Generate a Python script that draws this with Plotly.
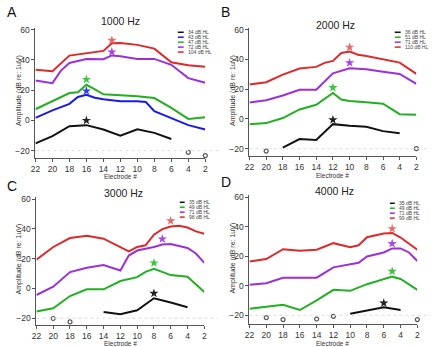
import plotly.graph_objects as go

# ---------------- data ----------------
# Panel A: 1000 Hz
a_title = "1000 Hz"
a_labels = ["34 dB HL", "43 dB HL", "47 dB HL", "72 dB HL", "104 dB HL"]
a34_x = [22, 20, 18, 16, 14, 12, 10, 8, 6]
a34_y = [-15.2, -10.4, -3.8, -3.1, -6.0, -10.1, -5.8, -8.2, -12.3]
a43_x = [22, 20, 18, 17, 16, 15, 14, 12, 10, 9, 8, 6, 4, 2]
a43_y = [1.7, 6.7, 11.0, 15.5, 17.0, 15.0, 14.0, 12.7, 12.7, 12.2, 6.1, 1.3, -3.1, -6.0]
a47_x = [22, 20, 18, 17, 16, 15, 14, 12, 10, 8, 6, 4, 2]
a47_y = [7.4, 12.8, 18.1, 18.6, 23.6, 20.5, 17.3, 16.6, 16.0, 14.8, 8.3, 1.0, 2.1]
a72_x = [22, 20, 19, 18, 16, 14, 13, 12, 10, 8, 6, 4, 2]
a72_y = [26.5, 24.7, 33.0, 38.0, 40.7, 40.5, 43.0, 42.5, 40.7, 40.7, 36.8, 28.0, 25.0]
a104_x = [22, 20, 18, 16, 14, 13, 12, 10, 9, 8, 6, 4, 2]
a104_y = [33.5, 32.6, 42.9, 44.4, 46.0, 51.0, 51.2, 50.0, 49.0, 47.5, 38.5, 36.5, 35.5]
a_star_x = [16, 16, 16, 13, 13]
a_star_y = [0.0, 19.5, 27.1, 45.3, 53.0]
a_nr_x = [4, 2]
a_nr_y = [-21.1, -23.3]

# Panel B: 2000 Hz
b_title = "2000 Hz"
b_labels = ["36 dB HL", "51 dB HL", "71 dB HL", "110 dB HL"]
b36_x = [18, 16, 14, 12, 10, 8, 6, 4]
b36_y = [-19.3, -13.5, -14.2, -3.5, -4.6, -5.3, -8.2, -9.7]
b51_x = [22, 20, 18, 16, 14, 13, 12, 11, 10, 8, 6, 4, 2]
b51_y = [-3.5, -2.8, 0.6, 6.4, 9.5, 13.5, 17.5, 13.1, 12.0, 11.3, 10.2, 3.2, 2.8]
b71_x = [22, 20, 18, 16, 14, 12, 10, 8, 6, 4, 2]
b71_y = [11.0, 12.6, 15.8, 19.6, 19.6, 30.7, 34.1, 33.4, 31.8, 30.3, 23.6]
b110_x = [22, 20, 18, 16, 14, 13, 12, 11, 10, 9, 8, 6, 4, 2]
b110_y = [23.1, 24.7, 29.8, 33.9, 35.0, 37.7, 39.0, 44.4, 45.3, 43.2, 42.3, 40.1, 37.9, 30.3]
b_star_x = [12, 12, 10, 10]
b_star_y = [-0.6, 21.1, 37.7, 48.2]
b_nr_x = [20, 2]
b_nr_y = [-21.6, -20.0]

# Panel C: 3000 Hz
c_title = "3000 Hz"
c_labels = ["35 dB HL", "49 dB HL", "71 dB HL", "98 dB HL"]
c35_x = [14, 12, 10, 8, 6, 4]
c35_y = [-15.8, -17.3, -14.7, -6.6, -9.5, -12.6]
c49_x = [22, 20, 18, 16, 14, 12, 10, 9, 8, 6, 4, 2]
c49_y = [-15.5, -13.3, -5.1, -0.6, -0.6, 5.0, 7.6, 11.2, 13.2, 9.0, 7.9, -2.4]
c71_x = [22, 20, 18, 16, 14, 12, 11, 10, 8, 7, 6, 4, 3, 2]
c71_y = [-4.4, 1.2, 11.0, 13.9, 15.7, 12.1, 22.1, 25.5, 27.9, 29.5, 29.9, 27.2, 23.5, 17.2]
c98_x = [22, 20, 18, 16, 14, 12, 11, 10, 9, 8, 7, 6, 5, 4, 3, 2]
c98_y = [19.4, 27.9, 33.9, 35.5, 33.5, 27.9, 25.0, 27.9, 29.0, 36.2, 39.9, 41.7, 42.2, 41.0, 38.4, 36.8]
c_star_x = [8, 8, 7, 6]
c_star_y = [-3.3, 17.2, 33.3, 45.5]
c_nr_x = [20, 18]
c_nr_y = [-20.2, -22.5]

# Panel D: 4000 Hz
d_title = "4000 Hz"
d_labels = ["35 dB HL", "49 dB HL", "71 dB HL", "99 dB HL"]
d35_x = [10, 8, 6, 4]
d35_y = [-18.9, -16.6, -14.6, -16.4]
d49_x = [22, 20, 18, 16, 14, 12, 10, 8, 6, 5, 4, 2]
d49_y = [-15.5, -14.2, -12.8, -16.4, -9.9, -2.7, -3.4, 1.1, 4.2, 6.2, 4.6, -2.7]
d71_x = [22, 20, 18, 16, 14, 12, 10, 9, 8, 6, 5, 4, 3, 2]
d71_y = [0.8, 1.7, 5.5, 5.5, 5.5, 12.5, 14.5, 15.6, 19.9, 22.6, 25.3, 25.3, 22.6, 16.8]
d99_x = [22, 20, 18, 16, 14, 12, 10, 9, 8, 6, 5, 4, 2]
d99_y = [16.5, 18.1, 24.8, 23.7, 24.4, 28.9, 26.2, 27.5, 32.9, 35.4, 35.8, 32.7, 24.4]
d_star_x = [6, 5, 5, 5]
d_star_y = [-11.7, 9.8, 28.6, 38.7]
d_nr_x = [20, 18, 14, 12, 2]
d_nr_y = [-21.6, -22.9, -22.5, -20.7, -22.9]

x_ticks = [22, 20, 18, 16, 14, 12, 10, 8, 6, 4, 2]
y_ticks = [-20, 0, 20, 40, 60]
noise_floor = -20

# ---------------- styles ----------------
FONT = "Arial, Liberation Sans, sans-serif"
BLACK, BLUE, GREEN, PURPLE, RED = "#111111", "#1a1ae6", "#22b022", "#9b2fd8", "#dc2a2a"
STAR = {BLACK: "#222222", BLUE: "#3040e8", GREEN: "#3cc43c", PURPLE: "#a845e6", RED: "#e86a6a"}
AX_COL = "#555555"

W, H = 440, 347

panels = [
    dict(letter="A", title=a_title, labels=a_labels,
         series=[(a34_x, a34_y, BLACK), (a43_x, a43_y, BLUE), (a47_x, a47_y, GREEN),
                 (a72_x, a72_y, PURPLE), (a104_x, a104_y, RED)],
         stars=(a_star_x, a_star_y, [BLACK, BLUE, GREEN, PURPLE, RED]), nr=(a_nr_x, a_nr_y),
         px=(31, 204), py=(25, 156), yr=(-24.6, 61.3),
         title_xy=(118, 18.5), letter_xy=(7, 9), ytitle_xy=(14, 88), xtitle_xy=(118, 175.5),
         leg=(176, 182, 184, 29.5)),
    dict(letter="B", title=b_title, labels=b_labels,
         series=[(b36_x, b36_y, BLACK), (b51_x, b51_y, GREEN), (b71_x, b71_y, PURPLE),
                 (b110_x, b110_y, RED)],
         stars=(b_star_x, b_star_y, [BLACK, GREEN, PURPLE, RED]), nr=(b_nr_x, b_nr_y),
         px=(249, 419), py=(25, 154), yr=(-24.7, 61.3),
         title_xy=(337, 22), letter_xy=(225, 9), ytitle_xy=(232, 88), xtitle_xy=(334, 174),
         leg=(397, 403, 405, 29.5)),
    dict(letter="C", title=c_title, labels=c_labels,
         series=[(c35_x, c35_y, BLACK), (c49_x, c49_y, GREEN), (c71_x, c71_y, PURPLE),
                 (c98_x, c98_y, RED)],
         stars=(c_star_x, c_star_y, [BLACK, GREEN, PURPLE, RED]), nr=(c_nr_x, c_nr_y),
         px=(32, 203), py=(196, 325), yr=(-24.7, 61.3),
         title_xy=(121, 191.5), letter_xy=(7, 185), ytitle_xy=(14, 258), xtitle_xy=(118, 343),
         leg=(178, 183, 185, 201)),
    dict(letter="D", title=d_title, labels=d_labels,
         series=[(d35_x, d35_y, BLACK), (d49_x, d49_y, GREEN), (d71_x, d71_y, PURPLE),
                 (d99_x, d99_y, RED)],
         stars=(d_star_x, d_star_y, [BLACK, GREEN, PURPLE, RED]), nr=(d_nr_x, d_nr_y),
         px=(249, 420), py=(194, 324), yr=(-26.0, 61.3),
         title_xy=(336, 189.5), letter_xy=(225, 181), ytitle_xy=(232, 257), xtitle_xy=(334, 343),
         leg=(392, 397, 399, 202)),
]

fig = go.Figure()
layout = dict(width=W, height=H, margin=dict(l=0, r=0, t=0, b=0),
              paper_bgcolor="white", plot_bgcolor="white", showlegend=False,
              font=dict(family=FONT, color="#333333"))
annotations = []
shapes = []


def pxx(v):
    return v / W


def pxy(v):
    return 1 - v / H


for i, p in enumerate(panels, start=1):
    xa = "x" if i == 1 else f"x{i}"
    ya = "y" if i == 1 else f"y{i}"
    xkey = "xaxis" if i == 1 else f"xaxis{i}"
    ykey = "yaxis" if i == 1 else f"yaxis{i}"
    layout[xkey] = dict(domain=[pxx(p["px"][0]), pxx(p["px"][1])], range=[22, 2], anchor=ya,
                        tickvals=x_ticks, ticks="outside", ticklen=3, tickwidth=1,
                        tickcolor=AX_COL, showline=True, linecolor=AX_COL, linewidth=1,
                        showgrid=False, zeroline=False, tickfont=dict(size=8.5, color="#333333"))
    layout[ykey] = dict(domain=[pxy(p["py"][1]), pxy(p["py"][0])], range=list(p["yr"]),
                        anchor=xa, tickvals=y_ticks, ticks="outside", ticklen=3, tickwidth=1,
                        tickcolor=AX_COL, showline=True, linecolor=AX_COL, linewidth=1,
                        showgrid=False, zeroline=False, tickfont=dict(size=8.5, color="#333333"))

    # noise floor
    shapes.append(dict(type="line", xref=f"{xa} domain", yref=ya, x0=0, x1=1.08,
                       y0=noise_floor, y1=noise_floor,
                       line=dict(color="#dcdcdc", width=1, dash="dot")))

    for (sx, sy, col) in p["series"]:
        fig.add_trace(go.Scatter(x=sx, y=sy, mode="lines", xaxis=xa, yaxis=ya,
                                 line=dict(color=col, width=2), cliponaxis=False,
                                 hoverinfo="skip"))
    stx, sty, scol = p["stars"]
    fig.add_trace(go.Scatter(x=stx, y=sty, mode="markers", xaxis=xa, yaxis=ya,
                             marker=dict(symbol="star", size=7,
                                         color=[STAR[c] for c in scol], line=dict(width=0)),
                             cliponaxis=False, hoverinfo="skip"))
    nx, ny = p["nr"]
    fig.add_trace(go.Scatter(x=nx, y=ny, mode="markers", xaxis=xa, yaxis=ya,
                             marker=dict(symbol="circle-open", size=4, color="#555555",
                                         line=dict(width=1.2)),
                             cliponaxis=False, hoverinfo="skip"))

    # titles
    annotations.append(dict(text=p["title"], x=pxx(p["title_xy"][0]), y=pxy(p["title_xy"][1]),
                            xref="paper", yref="paper", showarrow=False,
                            xanchor="center", yanchor="middle",
                            font=dict(size=10.5, color="#222222")))
    annotations.append(dict(text=p["letter"], x=pxx(p["letter_xy"][0]), y=pxy(p["letter_xy"][1]),
                            xref="paper", yref="paper", showarrow=False,
                            xanchor="center", yanchor="middle",
                            font=dict(size=14, color="#111111")))
    annotations.append(dict(text="Amplitude (dB re: 1uV)", x=pxx(p["ytitle_xy"][0]),
                            y=pxy(p["ytitle_xy"][1]), xref="paper", yref="paper",
                            showarrow=False, textangle=-90, xanchor="center", yanchor="middle",
                            font=dict(size=7, color="#333333")))
    annotations.append(dict(text="Electrode #", x=pxx(p["xtitle_xy"][0]),
                            y=pxy(p["xtitle_xy"][1]), xref="paper", yref="paper",
                            showarrow=False, xanchor="center", yanchor="middle",
                            font=dict(size=6.5, color="#333333")))

    # small manual legend
    lx0, lx1, ltx, ly0 = p["leg"]
    cols = [c for (_, _, c) in p["series"]]
    for k, (lab, col) in enumerate(zip(p["labels"], cols)):
        yy = ly0 + 5 * k
        shapes.append(dict(type="line", xref="paper", yref="paper",
                           x0=pxx(lx0), x1=pxx(lx1), y0=pxy(yy), y1=pxy(yy),
                           line=dict(color=col, width=1.5)))
        annotations.append(dict(text=lab, x=pxx(ltx), y=pxy(yy), xref="paper", yref="paper",
                                showarrow=False, xanchor="left", yanchor="middle",
                                font=dict(size=5, color="#444444")))

layout["annotations"] = annotations
layout["shapes"] = shapes
fig.update_layout(**layout)
fig.write_html("out.html", config={"displayModeBar": False},
               post_script="document.body.style.margin='0';document.body.style.overflow='hidden';")
